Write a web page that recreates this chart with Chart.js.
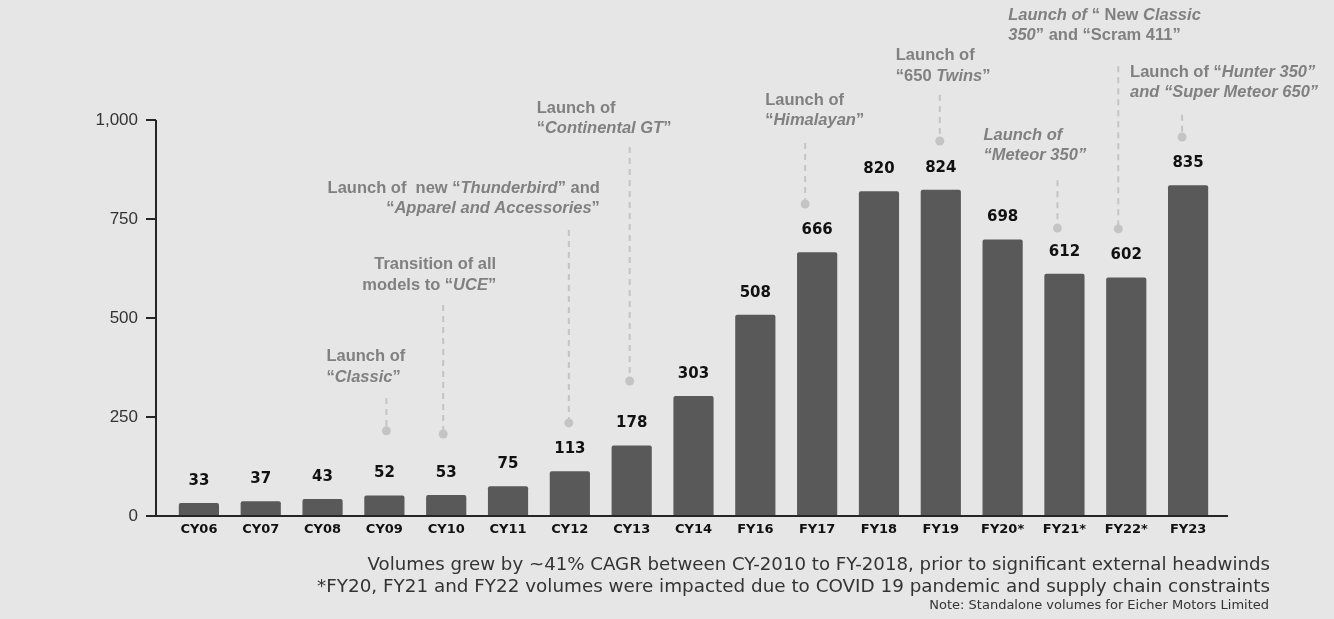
<!DOCTYPE html>
<html>
<head>
<meta charset="utf-8">
<script src="https://cdn.jsdelivr.net/npm/chart.js@4.4.0/dist/chart.umd.min.js"></script>
<style>
  html, body { margin: 0; padding: 0; background: #e6e6e6; }
  #wrap { width: 1334px; height: 619px; position: relative; }
</style>
</head>
<body>
<div id="wrap"><canvas id="volumes-chart" width="1334" height="619"></canvas></div>
<script>
// Chart data
const categories = ['CY06', 'CY07', 'CY08', 'CY09', 'CY10', 'CY11', 'CY12', 'CY13', 'CY14',
  'FY16', 'FY17', 'FY18', 'FY19', 'FY20*', 'FY21*', 'FY22*', 'FY23'];
const volumes = [33, 37, 43, 52, 53, 75, 113, 178, 303, 508, 666, 820, 824, 698, 612, 602, 835];
const yTicks = [0, 250, 500, 750, 1000];

const footnotes = [
  'Volumes grew by ~41% CAGR between CY-2010 to FY-2018, prior to significant external headwinds',
  '*FY20, FY21 and FY22 volumes were impacted due to COVID 19 pandemic and supply chain constraints'
];
const sourceNote = 'Note: Standalone volumes for Eicher Motors Limited';

// Launch callouts: text segments are [text, italic]
const annotations = [
  { idx: 3, align: 'left', dx: -58, textY: 402, lineDx: 2, lineTop: 298, dot: 215,
    lines: [[['Launch of', 0]], [['\u201C', 0], ['Classic', 1], ['\u201D', 0]]] },
  { idx: 4, align: 'right', dx: 50, textY: 634, lineDx: -3, lineTop: 533, dot: 207,
    lines: [[['Transition of all', 0]], [['models to \u201C', 0], ['UCE', 1], ['\u201D', 0]]] },
  { idx: 6, align: 'right', dx: 30, textY: 828, lineDx: -1, lineTop: 722, dot: 235,
    lines: [[['Launch of  new \u201C', 0], ['Thunderbird', 1], ['\u201D and', 0]],
            [['\u201C', 0], ['Apparel and Accessories', 1], ['\u201D', 0]]] },
  { idx: 7, align: 'left', dx: -95, textY: 1030, lineDx: -2, lineTop: 932, dot: 341,
    lines: [[['Launch of', 0]], [['\u201C', 0], ['Continental GT', 1], ['\u201D', 0]]] },
  { idx: 10, align: 'left', dx: -52, textY: 1050, lineDx: -12, lineTop: 942, dot: 788,
    lines: [[['Launch of', 0]], [['\u201C', 0], ['Himalayan', 1], ['\u201D', 0]]] },
  { idx: 12, align: 'left', dx: -45, textY: 1162, lineDx: -1, lineTop: 1063, dot: 947,
    lines: [[['Launch of', 0]], [['\u201C650 ', 0], ['Twins', 1], ['\u201D', 0]]] },
  { idx: 14, align: 'left', dx: -81, textY: 962, lineDx: -7, lineTop: 848, dot: 727,
    lines: [[['Launch of', 1]], [['\u201CMeteor 350\u201D', 1]]] },
  { idx: 15, align: 'left', dx: -118, textY: 1265, lineDx: -8, lineTop: 1136, dot: 725,
    lines: [[['Launch of ', 1], ['\u201C New ', 0], ['Classic', 1]],
            [['350', 1], ['\u201D and \u201CScram 411\u201D', 0]]] },
  { idx: 16, align: 'left', dx: -58, textY: 1121, lineDx: -6, lineTop: 1013, dot: 957,
    lines: [[['Launch of \u201C', 0], ['Hunter 350\u201D', 1]],
            [['and \u201CSuper Meteor 650\u201D', 1]]] }
];

const AXIS_COLOR = '#262626';
const BAR_COLOR = '#595959';
const ANN_COLOR = '#808080';
const SANS = '"Liberation Sans", Arial, sans-serif';
const WIDE = '"DejaVu Sans", sans-serif';

function annFont(italic) {
  return (italic ? 'italic ' : '') + 'bold 16.5px ' + SANS;
}

// fit a right-aligned line to the width it has in the original
function fitText(ctx, text, family, size, width, rightX, y) {
  ctx.font = size + 'px ' + family;
  const s = size * width / ctx.measureText(text).width;
  ctx.font = s.toFixed(2) + 'px ' + family;
  ctx.fillText(text, rightX, y);
}

// Draw axes, value labels, callouts and footnotes
const decorPlugin = {
  id: 'decor',
  afterDatasetsDraw(chart) {
    const ctx = chart.ctx;
    const x = chart.scales.x;
    const y = chart.scales.y;
    const area = chart.chartArea;
    const axisX = area.left - 12;

    ctx.save();

    // axis lines and tick marks
    ctx.strokeStyle = AXIS_COLOR;
    ctx.lineWidth = 2;
    ctx.beginPath();
    ctx.moveTo(axisX, y.getPixelForValue(1000));
    ctx.lineTo(axisX, y.getPixelForValue(0));
    ctx.moveTo(axisX - 10, y.getPixelForValue(0));
    ctx.lineTo(area.right + 9, y.getPixelForValue(0));
    yTicks.forEach(v => {
      const py = y.getPixelForValue(v);
      ctx.moveTo(axisX - 10, py);
      ctx.lineTo(axisX, py);
    });
    ctx.stroke();

    // y tick labels
    ctx.fillStyle = '#333333';
    ctx.font = '17px ' + SANS;
    ctx.textAlign = 'right';
    ctx.textBaseline = 'middle';
    yTicks.forEach(v => {
      ctx.fillText(v.toLocaleString('en-US'), axisX - 18, y.getPixelForValue(v));
    });

    // value labels
    ctx.fillStyle = '#111111';
    ctx.font = 'bold 15px ' + WIDE;
    ctx.textAlign = 'center';
    volumes.forEach((v, i) => {
      ctx.fillText(String(v), x.getPixelForValue(i), y.getPixelForValue(v) - 22);
    });

    // callouts
    annotations.forEach(a => {
      const cx = x.getPixelForValue(a.idx);
      const lx = cx + a.lineDx;
      ctx.strokeStyle = '#c4c4c4';
      ctx.lineWidth = 2;
      ctx.setLineDash([6, 5]);
      ctx.beginPath();
      ctx.moveTo(lx, y.getPixelForValue(a.lineTop));
      ctx.lineTo(lx, y.getPixelForValue(a.dot));
      ctx.stroke();
      ctx.setLineDash([]);
      ctx.fillStyle = '#c4c4c4';
      ctx.beginPath();
      ctx.arc(lx, y.getPixelForValue(a.dot), 4.5, 0, Math.PI * 2);
      ctx.fill();

      ctx.fillStyle = ANN_COLOR;
      ctx.textAlign = 'left';
      ctx.textBaseline = 'middle';
      a.lines.forEach((segs, li) => {
        let total = 0;
        segs.forEach(s => { ctx.font = annFont(s[1]); total += ctx.measureText(s[0]).width; });
        let sx = a.align === 'right' ? cx + a.dx - total : cx + a.dx;
        const sy = y.getPixelForValue(a.textY) + li * 20.5;
        segs.forEach(s => {
          ctx.font = annFont(s[1]);
          ctx.fillText(s[0], sx, sy);
          sx += ctx.measureText(s[0]).width;
        });
      });
    });

    // footnotes
    ctx.fillStyle = '#333333';
    ctx.textAlign = 'right';
    ctx.textBaseline = 'middle';
    fitText(ctx, footnotes[0], WIDE, 17, 903, 1270, 565);
    fitText(ctx, footnotes[1], WIDE, 17, 953, 1270, 587);
    fitText(ctx, sourceNote, WIDE, 12, 340, 1269, 606);

    ctx.restore();
  }
};

const ctx = document.getElementById('volumes-chart').getContext('2d');
new Chart(ctx, {
  type: 'bar',
  data: {
    labels: categories,
    datasets: [{
      data: volumes,
      backgroundColor: BAR_COLOR,
      borderRadius: 2,
      borderSkipped: 'bottom',
      barPercentage: 0.65,
      categoryPercentage: 1
    }]
  },
  options: {
    responsive: false,
    animation: false,
    layout: { padding: { top: 120, right: 115, bottom: 73, left: 0 } },
    plugins: { legend: { display: false }, tooltip: { enabled: false } },
    scales: {
      x: {
        grid: { display: false, drawTicks: false },
        border: { display: false },
        ticks: {
          color: '#111111',
          font: { family: WIDE, size: 13, weight: 'bold' },
          padding: 6,
          maxRotation: 0,
          autoSkip: false
        },
        afterFit: scale => { scale.height = 30; }
      },
      y: {
        min: 0,
        max: 1000,
        grid: { display: false, drawTicks: false },
        border: { display: false },
        ticks: { display: false },
        afterFit: scale => { scale.width = 168; }
      }
    }
  },
  plugins: [decorPlugin]
});
</script>
</body>
</html>
